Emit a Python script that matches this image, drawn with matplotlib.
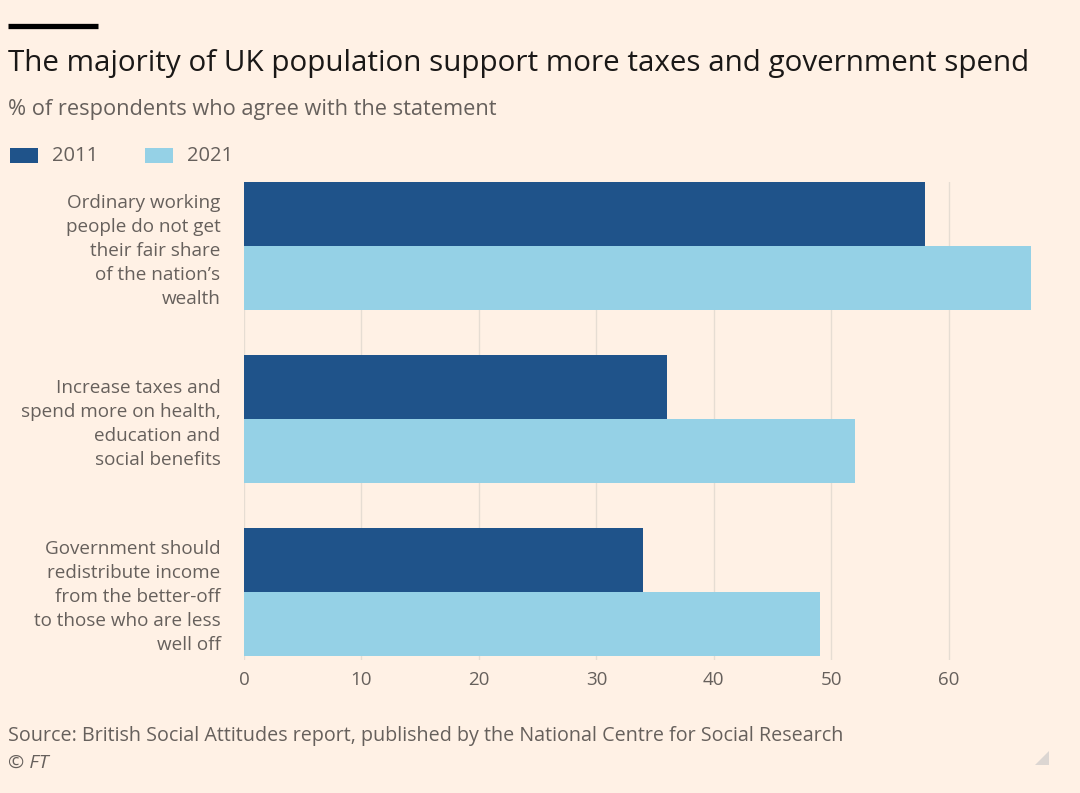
import matplotlib.pyplot as plt
from matplotlib.patches import Rectangle, Polygon
from matplotlib.lines import Line2D
import numpy as np

plt.rcParams['font.family'] = ['Open Sans', 'DejaVu Sans']

# data
categories = [
    "Ordinary working\npeople do not get\ntheir fair share\nof the nation\u2019s\nwealth",
    "Increase taxes and\nspend more on health,\neducation and\nsocial benefits",
    "Government should\nredistribute income\nfrom the better-off\nto those who are less\nwell off",
]
years = ["2011", "2021"]
values_2011 = [58, 36, 34]
values_2021 = [67, 52, 49]
x_ticks = [0, 10, 20, 30, 40, 50, 60]

BG = "#FFF1E5"
DARK = "#1F538A"
LIGHT = "#95D1E6"
GREY = "#66605C"
GRID = "#E6DDD3"

W, H = 1080, 793
fig = plt.figure(figsize=(W / 100, H / 100), dpi=100, facecolor=BG)

def fx(px):
    return px / W

def fy(px):
    return 1 - px / H

ax_top, ax_bot = 182, 659.5
ax = fig.add_axes([fx(244), fy(ax_bot), fx(1031) - fx(244), fy(ax_top) - fy(ax_bot)])
ax.set_facecolor(BG)

h = 0.37
y = np.arange(len(categories))
ax.barh(y - h / 2, values_2011, height=h, color=DARK, zorder=3)
ax.barh(y + h / 2, values_2021, height=h, color=LIGHT, zorder=3)

ax.set_xlim(0, 67)
ax.set_ylim(2.39, -0.37)
ax.set_xticks(x_ticks)
ax.set_xticklabels([str(t) for t in x_ticks], fontsize=13.5, color=GREY)
ax.set_yticks(y)
ax.set_yticklabels(categories, fontsize=13.6, color=GREY, linespacing=1.43)
ax.tick_params(axis='both', length=0)
ax.tick_params(axis='x', pad=8)
ax.tick_params(axis='y', pad=17)
ax.grid(axis='x', color=GRID, linewidth=1, zorder=0)
for s in ax.spines.values():
    s.set_visible(False)

# header
fig.add_artist(Line2D([fx(8), fx(98)], [fy(25.5), fy(25.5)], color="black",
                      linewidth=3.8, solid_capstyle='butt'))
fig.text(fx(8), fy(63), "The majority of UK population support more taxes and government spend",
         fontsize=21.3, color="#1A1817", va='center', ha='left')
fig.text(fx(8), fy(109), "% of respondents who agree with the statement",
         fontsize=15.7, color=GREY, va='center', ha='left')

# legend
for xs, col, lab in [(10, DARK, years[0]), (145, LIGHT, years[1])]:
    fig.add_artist(Rectangle((fx(xs), fy(163)), fx(28), fy(148) - fy(163),
                             facecolor=col, edgecolor='none'))
    fig.text(fx(xs + 42), fy(156), lab, fontsize=14.5, color=GREY, va='center', ha='left')

# footer
fig.text(fx(8), fy(736), "Source: British Social Attitudes report, published by the National Centre for Social Research",
         fontsize=14.2, color=GREY, va='center', ha='left')
fig.text(fx(8), fy(763), "\u00a9 FT", fontsize=14, color=GREY, style='italic', va='center', ha='left')
fig.add_artist(Polygon([(fx(1035), fy(765)), (fx(1049), fy(765)), (fx(1049), fy(751))],
                       closed=True, facecolor="#DCD6D2", edgecolor='none'))

fig.savefig("out.png", dpi=100, facecolor=BG)
